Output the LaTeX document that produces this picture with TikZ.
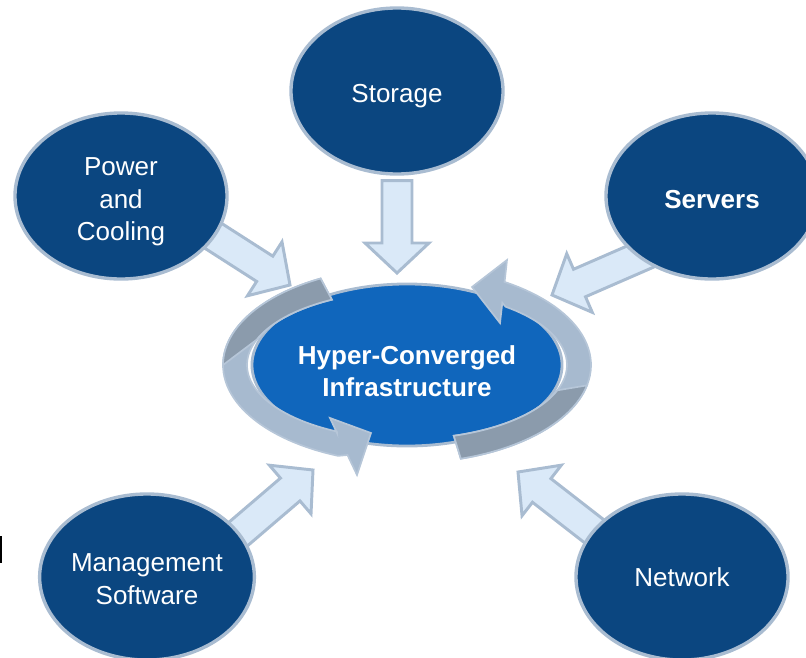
\documentclass[tikz,border=0pt]{standalone}
\usepackage{fontspec}
\setmainfont{Liberation Sans}
\usetikzlibrary{arrows.meta,positioning,calc,shapes.geometric,backgrounds}
\definecolor{satc}{HTML}{0B4680}
\definecolor{hubc}{HTML}{1066BC}
\definecolor{rimc}{HTML}{A9BCD1}
\definecolor{feedc}{HTML}{DAE9F8}
\definecolor{ringc}{HTML}{A7BACF}
\definecolor{ringd}{HTML}{8B9BAC}
\definecolor{ringe}{HTML}{B6C6D8}
% block arrow, #1 = tail, #2 = tip
\newcommand\feedarrow[2]{%
  \coordinate (hb) at ($(#2)!0.75cm!(#1)$);
  \filldraw[feed] ($(#1)!0.375cm!90:(#2)$) -- ($(hb)!0.375cm!90:(#2)$) -- ($(hb)!0.8cm!90:(#2)$) -- (#2)
    -- ($(hb)!0.8cm!-90:(#2)$) -- ($(hb)!0.375cm!-90:(#2)$) -- ($(#1)!0.375cm!-90:(#2)$) -- cycle;}

\begin{document}
\begin{tikzpicture}[x=0.025cm,y=-0.025cm,font=\fontsize{18.5}{23}\selectfont,
  sat/.style={ellipse,draw=rimc,fill=satc,line width=2.4pt,minimum width=5.3cm,minimum height=4.15cm,inner sep=0pt,text=white,align=center},
  hub/.style={ellipse,draw=rimc,fill=hubc,line width=2pt,minimum width=7.75cm,minimum height=4.05cm,inner sep=0pt,text=white,align=center,font=\fontsize{18.5}{23}\selectfont\bfseries},
  feed/.style={fill=feedc,draw=rimc,line width=2.1pt},
  loopband/.style={fill=ringc,draw=ringe,line width=1.2pt},
  loopdark/.style={fill=ringd,draw=ringe,line width=1.2pt}]
\useasboundingbox (0,0) rectangle (806,657);
\node[hub,text height=45pt] (hci) at (407,365) {Hyper-Converged\\Infrastructure};
\node[sat,text height=20.4pt] (sto) at (397,91) {Storage};
\node[sat,text height=67pt] (pwr) at (121,196) {Power\\and\\Cooling};
\node[sat,text height=17.6pt] (srv) at (712,196) {\bfseries Servers};
\node[sat,text height=39pt] (mgt) at (147,577) {Management\\Software};
\node[sat] (net) at (682,577) {Network};
% tails and tips of the block arrows
\coordinate (sto-t) at ($(sto.south)+(0,5)$);
\coordinate (pwr-t) at ($(pwr.center)!0.85!(pwr.-22)$);
\coordinate (srv-t) at ($(srv.center)!0.85!(srv.223)$);
\coordinate (mgt-t) at ($(mgt.center)!0.85!(mgt.23)$);
\coordinate (net-t) at ($(net.center)!0.85!(net.154)$);
\coordinate (sto-p) at (397,273);
\coordinate (pwr-p) at (290,285);
\coordinate (srv-p) at (552,295);
\coordinate (mgt-p) at (313,470);
\coordinate (net-p) at (518,472);
\begin{scope}[on background layer]
\foreach \s in {sto,pwr,srv,mgt,net} \feedarrow{\s-t}{\s-p};
\end{scope}
% cycle arrows round the hub
\filldraw[loopband] plot[domain=242:112,samples=50] ({407+184*cos(\x)},{365+98*sin(\x)}) -- (347.5,455) -- (357,475) -- (371,433) -- (330,418) -- (337,433)
  -- plot[domain=116:242,samples=50] ({407+160*cos(\x)},{365+74*sin(\x)}) -- cycle;
\filldraw[loopdark] plot[domain=242:180,samples=30] ({407+184*cos(\x)},{365+98*sin(\x)})
  -- plot[domain=200:242,samples=20] ({407+160*cos(\x)},{365+74*sin(\x)}) -- cycle;
\filldraw[loopband] plot[domain=73:-58,samples=50] ({407+184*cos(\x)},{365+98*sin(\x)}) -- (504.8,280) -- (507,260) -- (472,287) -- (500,323) -- (502.3,302.7)
  -- plot[domain=-52:73,samples=50] ({407+160*cos(\x)},{365+74*sin(\x)}) -- cycle;
\filldraw[loopdark] plot[domain=20:73,samples=30] ({407+160*cos(\x)},{365+74*sin(\x)})
  -- plot[domain=73:12,samples=30] ({407+184*cos(\x)},{365+98*sin(\x)}) -- cycle;
\fill[black] (0,536) rectangle (1.8,563);
\end{tikzpicture}
\end{document}
